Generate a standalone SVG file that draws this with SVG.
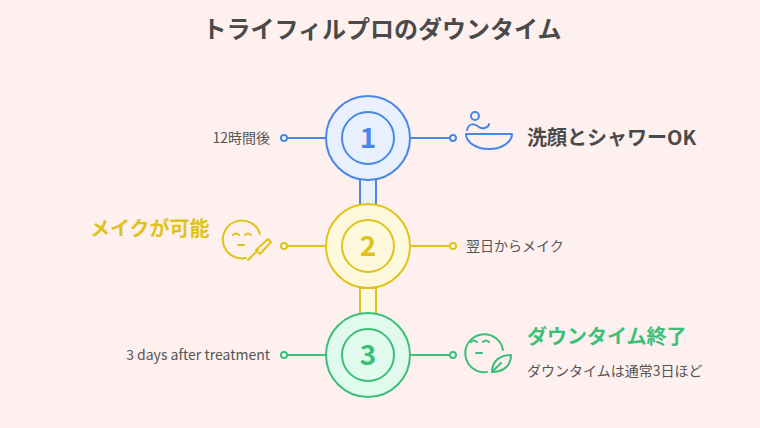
<svg xmlns="http://www.w3.org/2000/svg" width="760" height="428" viewBox="0 0 760 428">
<style>
text{font-family:"Noto Sans CJK JP","Noto Sans",sans-serif}
.t{font-size:14px;fill:#555}
.h{font-size:20px;font-weight:bold}
.n{font-size:28px;font-weight:bold;text-anchor:middle}
.ic{fill:none;stroke-width:2;stroke-linecap:round;stroke-linejoin:round}
.b{stroke:#4a86e8}.y{stroke:#e0c31a}.g{stroke:#3cbf78}
</style>
<rect width="760" height="428" fill="#fdf0ef"/>
<text x="382" y="38" text-anchor="middle" font-size="24" font-weight="bold" fill="#4a4a4a">トライフィルプロのダウンタイム</text>
<g id="connectors" stroke-width="2">
<rect x="360" y="179" width="16" height="26" fill="#e8f0fe" stroke="#4a86e8"/>
<rect x="360" y="288" width="16" height="26" fill="#fef9dc" stroke="#e0c31a"/>
<g class="b"><line x1="284" y1="138" x2="326" y2="138"/><line x1="410" y1="138" x2="453" y2="138"/><circle cx="284" cy="138" r="3" fill="#fff"/><circle cx="453" cy="138" r="3" fill="#fff"/></g>
<g class="y"><line x1="284" y1="246" x2="326" y2="246"/><line x1="410" y1="246" x2="453" y2="246"/><circle cx="284" cy="246" r="3" fill="#fff"/><circle cx="453" cy="246" r="3" fill="#fff"/></g>
<g class="g"><line x1="284" y1="355" x2="326" y2="355"/><line x1="410" y1="355" x2="453" y2="355"/><circle cx="284" cy="355" r="3" fill="#fff"/><circle cx="453" cy="355" r="3" fill="#fff"/></g>
</g>
<g id="step1">
<circle cx="368" cy="138" r="42" fill="#e8f0fe" stroke="#4a86e8" stroke-width="2"/>
<circle cx="368" cy="138" r="26" fill="none" stroke="#4a86e8" stroke-width="2"/>
<text class="n" x="368" y="148" fill="#4a86e8">1</text>
<text class="t" x="270" y="143" text-anchor="end">12時間後</text>
<g class="ic b"><circle cx="475" cy="116" r="4"/><path d="M466 134h46a23 15 0 0 1-46 0z"/><path d="M467 130c2-8 8-6 12-3s10 0 10-3"/></g>
<text class="h" x="527" y="145" fill="#4a4a4a">洗顔とシャワーOK</text>
</g>
<g id="step2">
<circle cx="368" cy="246" r="42" fill="#fef9dc" stroke="#e0c31a" stroke-width="2"/>
<circle cx="368" cy="246" r="26" fill="none" stroke="#e0c31a" stroke-width="2"/>
<text class="n" x="368" y="256" fill="#e0c31a">2</text>
<text class="t" x="466" y="251">翌日からメイク</text>
<g class="ic y"><path d="M260 234a19 19 0 1 0-14 24"/><path d="M233 235q3-3 6 0M245 235q3-3 6 0M238 245h6"/><path d="M248 260l10-10M256 250l12-11 3 3-11 12z"/></g>
<text class="h" x="90" y="236" fill="#e0c31a">メイクが可能</text>
</g>
<g id="step3">
<circle cx="368" cy="355" r="42" fill="#e0fbee" stroke="#3cbf78" stroke-width="2"/>
<circle cx="368" cy="355" r="26" fill="none" stroke="#3cbf78" stroke-width="2"/>
<text class="n" x="368" y="365" fill="#3cbf78">3</text>
<text class="t" x="270" y="360" text-anchor="end">3 days after treatment</text>
<g class="ic g"><path d="M503 350a19 19 0 1 0-16 22"/><path d="M471 342q3-3 6 0M483 342q3-3 6 0M476 353h6"/><path d="M492 372c0-11 8-17 19-17 0 11-8 17-19 17zM492 372l9-9"/></g>
<text class="h" x="527" y="344" fill="#3cbf78">ダウンタイム終了</text>
<text class="t" x="527" y="376">ダウンタイムは通常3日ほど</text>
</g>
</svg>
